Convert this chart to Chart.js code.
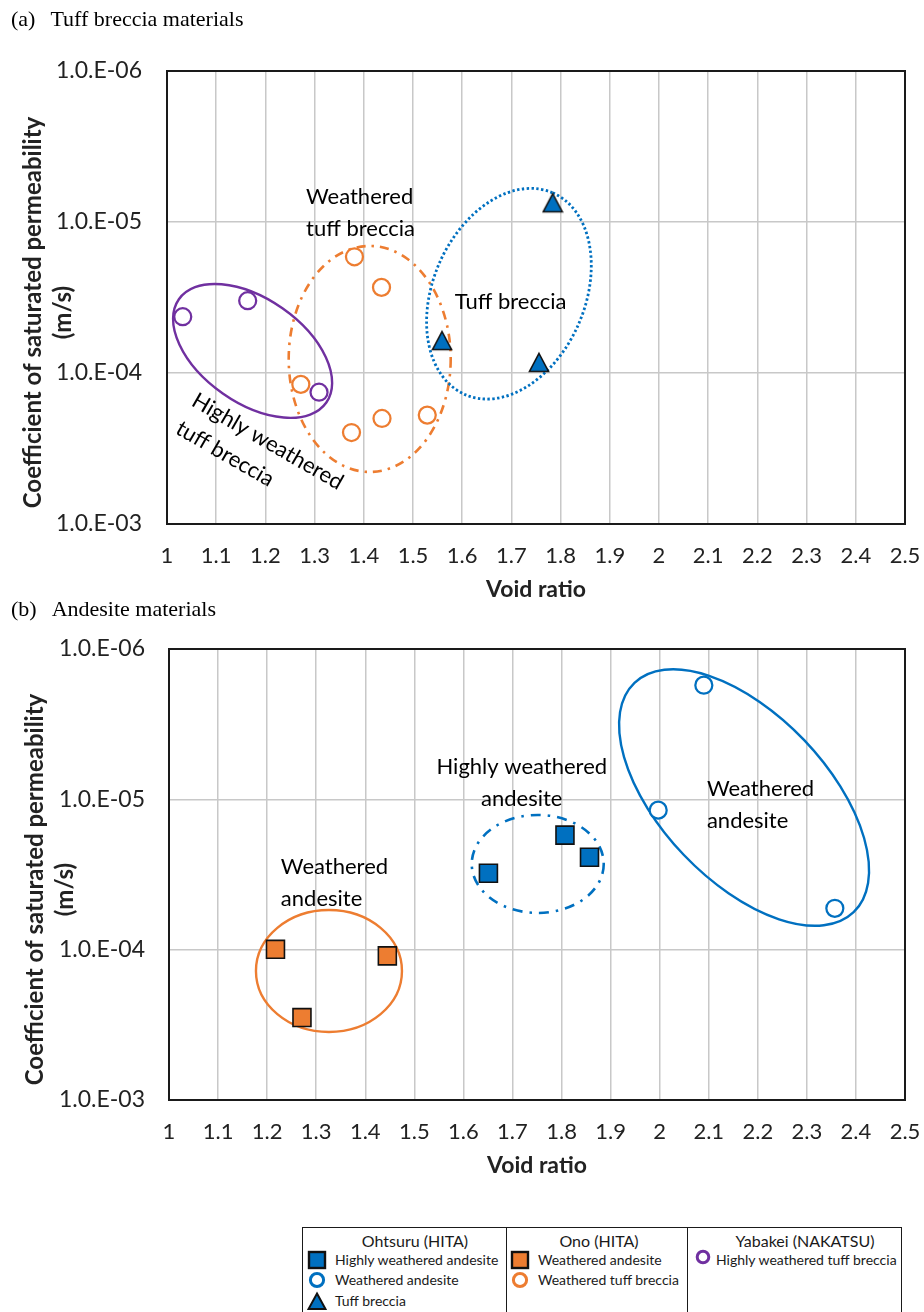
<!DOCTYPE html>
<html>
<head>
<meta charset="utf-8">
<title>Void ratio and saturated permeability</title>
<script src="https://cdn.jsdelivr.net/npm/chart.js@4.4.1/dist/chart.umd.min.js"></script>
<style>
  html, body { margin: 0; padding: 0; background: #fff; }
  body { position: relative; width: 924px; height: 1312px; overflow: hidden; font-family: Lato, "Liberation Sans", sans-serif; color: #000; }
  canvas { position: absolute; left: 0; }
  .caption { position: absolute; left: 11px; font: 22px/22px "Liberation Serif", "Times New Roman", serif; white-space: nowrap; }
  .caption span { margin-left: 15px; }
  #key { position: absolute; left: 302px; top: 1227px; width: 598px; height: 100px; border: 1.5px solid #1a1a1a; }
  #key .sep { position: absolute; top: 0; bottom: 0; border-left: 1.5px solid #1a1a1a; }
  #key .hd { position: absolute; top: 3.5px; transform: translateX(-50%); font-size: 16px; line-height: 18px; white-space: nowrap; color: #1a1a1a; }
  #key .it { position: absolute; height: 20px; display: flex; align-items: center; font-size: 14px; white-space: nowrap; color: #1a1a1a; }
  #key svg { flex: none; }
</style>
</head>
<body>

<canvas id="chartA" width="924" height="610" style="top:0"></canvas>
<canvas id="chartB" width="924" height="576" style="top:610px"></canvas>

<div class="caption" style="top:8px">(a)<span>Tuff breccia materials</span></div>
<div class="caption" style="top:598px">(b)<span>Andesite materials</span></div>

<div id="key">
  <div class="sep" style="left:203px"></div>
  <div class="sep" style="left:384px"></div>

  <div class="hd" style="left:112px">Ohtsuru (HITA)</div>
  <div class="it" style="left:4px;top:21.5px">
    <svg width="20" height="20"><rect x="2" y="2" width="16" height="16" fill="#0070C0" stroke="#111" stroke-width="2.4"/></svg>
    <span style="margin-left:8px">Highly weathered andesite</span>
  </div>
  <div class="it" style="left:4px;top:41.5px">
    <svg width="20" height="20"><circle cx="10" cy="10" r="6.6" fill="#fff" stroke="#0070C0" stroke-width="3"/></svg>
    <span style="margin-left:8px">Weathered andesite</span>
  </div>
  <div class="it" style="left:4px;top:62.5px">
    <svg width="20" height="20"><polygon points="10,2.5 18.5,18 1.5,18" fill="#0070C0" stroke="#111" stroke-width="2"/></svg>
    <span style="margin-left:8px">Tuff breccia</span>
  </div>

  <div class="hd" style="left:296px">Ono (HITA)</div>
  <div class="it" style="left:207px;top:21.5px">
    <svg width="20" height="20"><rect x="2" y="2" width="16" height="16" fill="#ED7D31" stroke="#111" stroke-width="2.4"/></svg>
    <span style="margin-left:8px">Weathered andesite</span>
  </div>
  <div class="it" style="left:207px;top:41.5px">
    <svg width="20" height="20"><circle cx="10" cy="10" r="6.6" fill="#fff" stroke="#ED7D31" stroke-width="3"/></svg>
    <span style="margin-left:8px">Weathered tuff breccia</span>
  </div>

  <div class="hd" style="left:502px">Yabakei (NAKATSU)</div>
  <div class="it" style="left:390px;top:19px">
    <svg width="20" height="20"><circle cx="10" cy="10" r="5.8" fill="#fff" stroke="#7030A0" stroke-width="3"/></svg>
    <span style="margin-left:3px;margin-top:5px">Highly weathered tuff breccia</span>
  </div>
</div>

<script>
// axis ticks
const xTickValues = [1, 1.1, 1.2, 1.3, 1.4, 1.5, 1.6, 1.7, 1.8, 1.9, 2, 2.1, 2.2, 2.3, 2.4, 2.5];
const xTickLabels = ['1', '1.1', '1.2', '1.3', '1.4', '1.5', '1.6', '1.7', '1.8', '1.9', '2', '2.1', '2.2', '2.3', '2.4', '2.5'];
const yTickValues = [1e-6, 1e-5, 1e-4, 1e-3];
const yTickLabels = ['1.0.E-06', '1.0.E-05', '1.0.E-04', '1.0.E-03'];

// (a) tuff breccia: void ratio e and permeability k (m/s)
const yabakeiHwTuffE = [1.032, 1.164, 1.309];
const yabakeiHwTuffK = [4.24e-5, 3.32e-5, 1.34e-4];
const onoWTuffE = [1.381, 1.436, 1.272, 1.375, 1.437, 1.529];
const onoWTuffK = [1.70e-5, 2.71e-5, 1.19e-4, 2.48e-4, 2.00e-4, 1.90e-4];
const ohtsuruTuffE = [1.784, 1.559, 1.756];
const ohtsuruTuffK = [7.46e-6, 6.10e-5, 8.51e-5];

// (b) andesite
const ohtsuruHwAndE = [1.651, 1.807, 1.857];
const ohtsuruHwAndK = [3.10e-5, 1.73e-5, 2.43e-5];
const ohtsuruWAndE = [2.090, 1.997, 2.357];
const ohtsuruWAndK = [1.74e-6, 1.18e-5, 5.31e-5];
const onoWAndE = [1.217, 1.445, 1.271];
const onoWAndK = [9.95e-5, 1.10e-4, 2.83e-4];

const BLUE = '#0070C0';
const ORANGE = '#ED7D31';
const PURPLE = '#7030A0';
const INK = '#222';

const pairs = (xs, ys) => xs.map((x, i) => ({ x, y: ys[i] }));

const ringPoint = color => ({
  pointStyle: 'circle', pointRadius: 8.5, borderWidth: 2.25,
  borderColor: color, backgroundColor: '#fff'
});
const boxPoint = color => ({
  pointStyle: 'rect', pointRadius: 12.7, borderWidth: 1.6,
  borderColor: '#111', backgroundColor: color
});

// filled triangle marker, centred on its bounding box
const triangleMark = (() => {
  const c = document.createElement('canvas');
  c.width = 22; c.height = 23;
  const g = c.getContext('2d');
  g.beginPath();
  g.moveTo(11, 2.5); g.lineTo(20.5, 20.5); g.lineTo(1.5, 20.5); g.closePath();
  g.fillStyle = BLUE; g.fill();
  g.lineWidth = 1.6; g.strokeStyle = '#111'; g.stroke();
  return c;
})();

// frame, group outlines, group names and the y title
const overlay = {
  id: 'overlay',
  beforeDatasetsDraw(chart, args, opts) {
    const { ctx, chartArea: a, scales: { x, y } } = chart;
    ctx.save();
    ctx.strokeStyle = '#1a1a1a';
    ctx.lineWidth = 2;
    ctx.strokeRect(a.left, a.top, a.right - a.left, a.bottom - a.top);

    opts.rings.forEach(r => {
      ctx.beginPath();
      ctx.ellipse(x.getPixelForValue(r.x), y.getPixelForValue(r.y), r.rx, r.ry,
        r.rot * Math.PI / 180, 0, 2 * Math.PI);
      ctx.setLineDash(r.dash || []);
      ctx.lineWidth = r.width;
      ctx.strokeStyle = r.color;
      ctx.stroke();
    });
    ctx.setLineDash([]);

    ctx.fillStyle = '#000';
    ctx.font = '22px Lato';
    ctx.textBaseline = 'alphabetic';
    opts.notes.forEach(n => {
      ctx.save();
      ctx.translate(x.getPixelForValue(n.x), y.getPixelForValue(n.y));
      ctx.rotate((n.rot || 0) * Math.PI / 180);
      ctx.textAlign = n.align;
      n.lines.forEach((t, i) => ctx.fillText(t, 0, i * 32));
      ctx.restore();
    });

    ctx.translate(opts.titleX, (a.top + a.bottom) / 2 + 15);
    ctx.rotate(-Math.PI / 2);
    ctx.font = 'bold 24px Lato';
    ctx.textAlign = 'center';
    ctx.textBaseline = 'middle';
    ctx.fillStyle = INK;
    ctx.fillText('Coefficient of saturated permeability', 0, 0);
    ctx.fillText('(m/s)', 0, 30);
    ctx.restore();
  }
};

function drawPanel(id, box, datasets, rings, notes) {
  new Chart(document.getElementById(id), {
    type: 'scatter',
    data: { datasets },
    options: {
      responsive: false,
      animation: false,
      events: [],
      layout: { padding: { top: box.top, right: 19, bottom: 0, left: 0 } },
      plugins: {
        legend: { display: false },
        tooltip: { enabled: false },
        overlay: { rings, notes, titleX: box.titleX }
      },
      scales: {
        x: {
          type: 'linear', min: 1, max: 2.5,
          afterBuildTicks: s => { s.ticks = xTickValues.map(v => ({ value: v })); },
          afterFit: s => { s.height = 86; s.paddingLeft = 0; s.paddingRight = 0; },
          grid: { color: '#c8c8c8', lineWidth: 1.5, drawTicks: false },
          border: { display: false },
          ticks: {
            padding: 19, autoSkip: false, maxRotation: 0, color: INK,
            font: { family: 'Lato', size: 22 },
            callback: (v, i) => xTickLabels[i]
          },
          title: {
            display: true, text: 'Void ratio', color: INK,
            font: { family: 'Lato', size: 23, weight: 'bold' },
            padding: { top: 0, bottom: 7 }
          }
        },
        y: {
          type: 'logarithmic', reverse: true, min: 1e-6, max: 1e-3,
          afterBuildTicks: s => { s.ticks = yTickValues.map(v => ({ value: v })); },
          afterFit: s => { s.width = box.left; s.paddingTop = 0; s.paddingBottom = 0; },
          grid: { color: '#c8c8c8', lineWidth: 1.5, drawTicks: false },
          border: { display: false },
          ticks: {
            padding: box.tickPad, autoSkip: false, color: INK,
            font: { family: 'Lato', size: 23 },
            callback: (v, i) => yTickLabels[i]
          }
        }
      }
    },
    plugins: [overlay]
  });
}

drawPanel('chartA', { top: 71, left: 167, tickPad: 25, titleX: 33 }, [
  { label: 'Highly weathered tuff breccia (Yabakei)', data: pairs(yabakeiHwTuffE, yabakeiHwTuffK), ...ringPoint(PURPLE) },
  { label: 'Weathered tuff breccia (Ono)', data: pairs(onoWTuffE, onoWTuffK), ...ringPoint(ORANGE) },
  { label: 'Tuff breccia (Ohtsuru)', data: pairs(ohtsuruTuffE, ohtsuruTuffK), pointStyle: triangleMark, pointRadius: 10 }
], [
  { x: 1.174, y: 7.14e-5, rx: 90, ry: 52, rot: 35, color: PURPLE, width: 2.4 },
  { x: 1.412, y: 8.07e-5, rx: 81, ry: 113, rot: 0, color: ORANGE, width: 2.6, dash: [9, 6, 2.5, 6] },
  { x: 1.695, y: 2.985e-5, rx: 110, ry: 76, rot: -66.5, color: BLUE, width: 2.8, dash: [2.4, 2.4] }
], [
  { lines: ['Weathered', 'tuff breccia'], x: 1.2826, y: 7.6e-6, align: 'left' },
  { lines: ['Tuff breccia'], x: 1.5848, y: 3.77e-5, align: 'left' },
  { lines: ['Highly weathered', 'tuff breccia'], x: 1.0473, y: 1.63e-4, align: 'left', rot: 30 }
]);

drawPanel('chartB', { top: 39, left: 169, tickPad: 24, titleX: 35 }, [
  { label: 'Highly weathered andesite (Ohtsuru)', data: pairs(ohtsuruHwAndE, ohtsuruHwAndK), ...boxPoint(BLUE) },
  { label: 'Weathered andesite (Ohtsuru)', data: pairs(ohtsuruWAndE, ohtsuruWAndK), ...ringPoint(BLUE) },
  { label: 'Weathered andesite (Ono)', data: pairs(onoWAndE, onoWAndK), ...boxPoint(ORANGE) }
], [
  { x: 1.326, y: 1.387e-4, rx: 73, ry: 61, rot: 0, color: ORANGE, width: 2.4 },
  { x: 1.7515, y: 2.69e-5, rx: 66, ry: 49, rot: 0, color: BLUE, width: 2.6, dash: [10, 7, 2.5, 7] },
  { x: 2.172, y: 9.73e-6, rx: 158.6, ry: 83.2, rot: 46.3, color: BLUE, width: 2.4 }
], [
  { lines: ['Highly weathered', 'andesite'], x: 1.719, y: 6.79e-6, align: 'center' },
  { lines: ['Weathered', 'andesite'], x: 2.0963, y: 9.46e-6, align: 'left' },
  { lines: ['Weathered', 'andesite'], x: 1.228, y: 3.14e-5, align: 'left' }
]);
</script>
</body>
</html>
